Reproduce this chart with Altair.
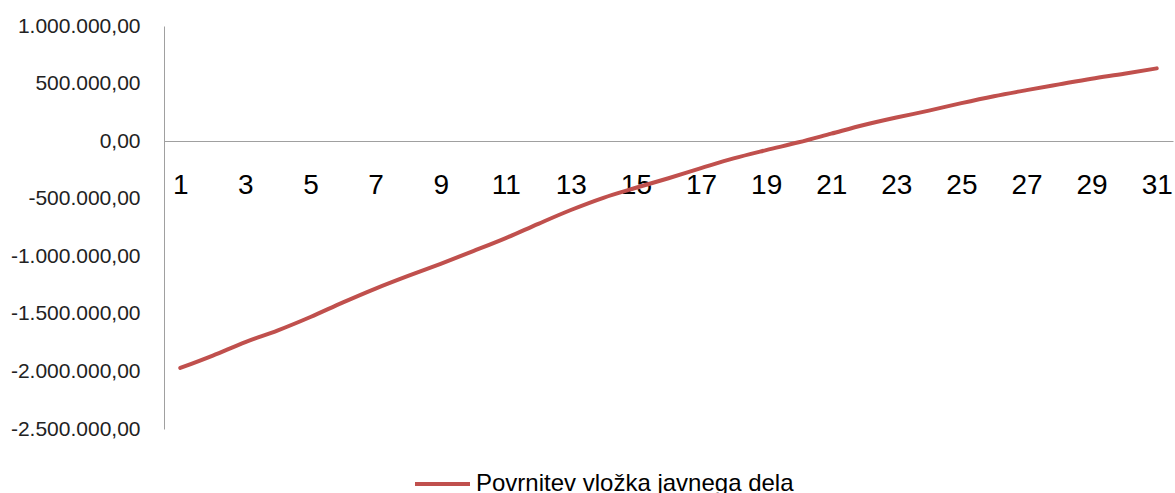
import altair as alt
import pandas as pd

# Yearly cumulative return of the public partner's investment (EUR)
years = list(range(1, 32))
values = [
    -1970000, -1862000, -1745000, -1643000, -1527000, -1400000, -1280000,
    -1170000, -1065000, -955000, -842000, -718000, -598000, -492000,
    -405000, -322000, -235000, -150000, -78000, -10000, 65000, 140000,
    205000, 265000, 330000, 390000, 443000, 493000, 542000, 585000, 632000,
]
series_name = "Povrnitev vložka javnega dela"

x_ticks = list(range(1, 32, 2))
y_ticks = [-2500000, -2000000, -1500000, -1000000, -500000, 0, 500000, 1000000]

df = pd.DataFrame({"leto": years, "vrednost": values, "serija": series_name})

# Slovenian number format: 1.000.000,00 and a plain hyphen for negatives
label_expr = (
    "replace(replace(replace(replace(format(datum.value, ',.2f'), "
    "regexp(',', 'g'), '~'), regexp('[.]', 'g'), ','), regexp('~', 'g'), '.'), "
    "'\u2212', '-')"
)

FONT = "Liberation Sans"

chart = (
    alt.Chart(df)
    .mark_line(strokeWidth=4, strokeCap="round", strokeJoin="round", interpolate="monotone")
    .encode(
        x=alt.X(
            "leto:Q",
            scale=alt.Scale(domain=[0.5, 31.5], nice=False, zero=False),
            axis=alt.Axis(
                values=x_ticks,
                title=None,
                grid=False,
                ticks=False,
                tickSize=0,
                offset=-288,
                labelFontSize=28,
                labelPadding=30,
                labelFont=FONT,
                labelColor="#000000",
                labelFlush=False,
                labelOverlap=False,
                domainColor="#A0A0A0",
                domainWidth=1,
                format="d",
            ),
        ),
        y=alt.Y(
            "vrednost:Q",
            scale=alt.Scale(domain=[-2500000, 1000000], nice=False),
            axis=alt.Axis(
                values=y_ticks,
                title=None,
                grid=False,
                ticks=False,
                tickSize=0,
                labelExpr=label_expr,
                labelFontSize=21,
                labelPadding=24,
                labelFont=FONT,
                labelColor="#222222",
                labelFlush=False,
                labelOverlap=False,
                domainColor="#A0A0A0",
                domainWidth=1,
            ),
        ),
        color=alt.Color(
            "serija:N",
            scale=alt.Scale(range=["#C0504D"]),
            legend=alt.Legend(
                title=None,
                orient="none",
                legendX=249,
                legendY=428.5,
                padding=0,
                symbolType="stroke",
                symbolSize=3025,
                symbolStrokeWidth=4,
                labelFontSize=24,
                labelFont=FONT,
                labelColor="#000000",
                labelOffset=4,
                labelLimit=600,
            ),
        ),
    )
    .properties(
        width=1009,
        height=403,
        autosize=alt.AutoSizeParams(type="none"),
        padding={"left": 164, "top": 26, "right": 2, "bottom": 64},
    )
    .configure_view(stroke=None)
)

chart.save("out.html", embed_options={"renderer": "svg", "actions": False})
